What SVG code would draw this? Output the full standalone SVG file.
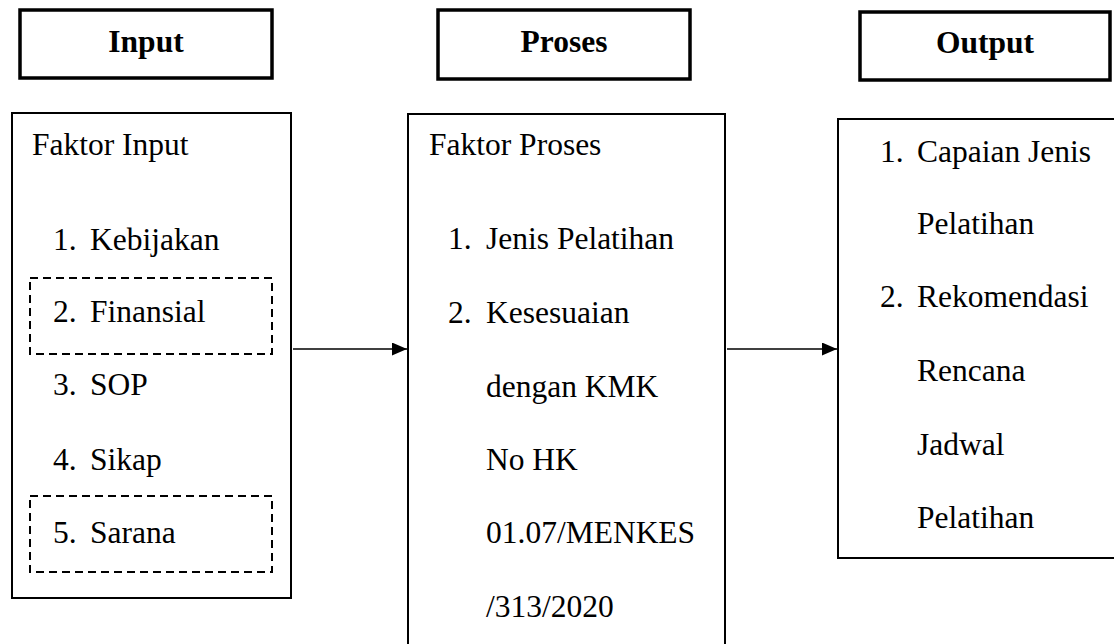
<svg xmlns="http://www.w3.org/2000/svg" width="1114" height="644" viewBox="0 0 1114 644" font-family="'Liberation Serif', 'Times New Roman', 'DejaVu Serif', serif">
<style>
.hdr{fill:#fff;stroke:#000;stroke-width:3.5}
.box{fill:#fff;stroke:#000;stroke-width:2}
.dash{fill:none;stroke:#000;stroke-width:2;stroke-dasharray:8 5}
text{font-family:'Liberation Serif','Times New Roman','DejaVu Serif',serif;font-size:31.5px;fill:#000}
.ht{font-weight:bold;text-anchor:middle}
.conn{stroke:#000;stroke-width:1.3;fill:none}
</style>
<defs>
<marker id="ah" markerWidth="15" markerHeight="13" refX="15" refY="6.5" orient="auto" markerUnits="userSpaceOnUse">
<path d="M0,0 L15,6.5 L0,13 Z" fill="#000"/>
</marker>
</defs>
<rect width="1114" height="644" fill="#fff"/>
<g id="hdr-input"><rect class="hdr" x="20" y="10" width="252" height="68"/><text class="ht" x="146" y="52">Input</text></g>
<g id="hdr-proses"><rect class="hdr" x="438" y="10" width="252" height="69"/><text class="ht" x="564" y="52">Proses</text></g>
<g id="hdr-output"><rect class="hdr" x="860" y="12" width="250" height="68"/><text class="ht" x="985" y="53">Output</text></g>
<g id="input">
<rect class="box" x="12" y="113" width="279" height="485"/>
<rect class="dash" x="30" y="278" width="242" height="76"/>
<rect class="dash" x="30" y="496" width="242" height="76"/>
<text x="32" y="155">Faktor Input</text>
<text x="53" y="250">1.</text><text x="90" y="250">Kebijakan</text>
<text x="53" y="322">2.</text><text x="90" y="322">Finansial</text>
<text x="53" y="395">3.</text><text x="90" y="395">SOP</text>
<text x="53" y="470">4.</text><text x="90" y="470">Sikap</text>
<text x="53" y="543">5.</text><text x="90" y="543">Sarana</text>
</g>
<g id="proses">
<rect class="box" x="408" y="114" width="317" height="560"/>
<text x="429" y="155">Faktor Proses</text>
<text x="448" y="249">1.</text><text x="486" y="249">Jenis Pelatihan</text>
<text x="448" y="323">2.</text><text x="486" y="323">Kesesuaian</text>
<text x="486" y="397">dengan KMK</text>
<text x="486" y="470">No HK</text>
<text x="486" y="543">01.07/MENKES</text>
<text x="486" y="617">/313/2020</text>
</g>
<g id="output">
<rect class="box" x="838" y="119" width="300" height="439"/>
<text x="880" y="162">1.</text><text x="917" y="162">Capaian Jenis</text>
<text x="917" y="234">Pelatihan</text>
<text x="880" y="307">2.</text><text x="917" y="307">Rekomendasi</text>
<text x="917" y="381">Rencana</text>
<text x="917" y="455">Jadwal</text>
<text x="917" y="528">Pelatihan</text>
</g>
<g id="connectors">
<line class="conn" x1="293" y1="349" x2="407" y2="349" marker-end="url(#ah)"/>
<line class="conn" x1="727" y1="349" x2="837" y2="349" marker-end="url(#ah)"/>
</g>
</svg>
